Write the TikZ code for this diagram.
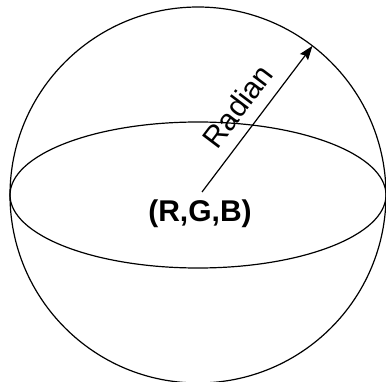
\documentclass[tikz,border=0pt]{standalone}
\usepackage{fontspec}
\setmainfont{Liberation Sans}
\usetikzlibrary{arrows.meta,calc}
\begin{document}
\begin{tikzpicture}[x=1pt, y=1pt, line width=1.2pt,
    bigtext/.style={font=\fontsize{30}{36}\selectfont, inner sep=2pt}]
  \useasboundingbox (0,0) rectangle (386,381);

  % Esfera y ecuador
  \coordinate (centro) at (198,186);
  \draw (centro) circle (188);
  \draw (centro) ellipse (188 and 73);

  % Centro (R,G,B)
  \node[bigtext, font=\fontsize{30}{36}\selectfont\bfseries] (rgb) at (200,167) {(R,G,B)};

  % Radio con flecha
  \coordinate (inicio) at (202,189);
  \coordinate (borde) at ($(centro)+(52.5:188)$);
  \draw[-{Stealth[length=14pt, width=10pt, inset=2pt]}] (inicio) -- (borde)
    node[bigtext, pos=0.49, sloped, above=10pt] (radio) {Radian};
\end{tikzpicture}
\end{document}
